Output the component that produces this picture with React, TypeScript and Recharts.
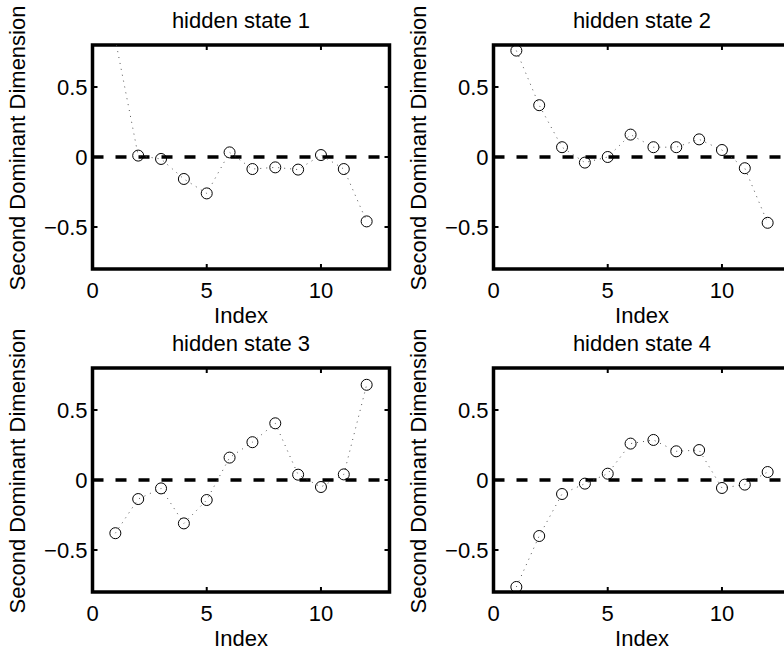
import { LineChart, Line, XAxis, YAxis, ReferenceLine, ReferenceArea } from 'recharts';

const indices = [1, 2, 3, 4, 5, 6, 7, 8, 9, 10, 11, 12];
const state1 = [0.84, 0.01, -0.014, -0.157, -0.26, 0.033, -0.086, -0.074, -0.09, 0.014, -0.086, -0.46];
const state2 = [0.76, 0.37, 0.07, -0.04, 0.0, 0.16, 0.07, 0.07, 0.126, 0.05, -0.08, -0.47];
const state3 = [-0.38, -0.136, -0.06, -0.31, -0.143, 0.16, 0.27, 0.405, 0.038, -0.05, 0.04, 0.68];
const state4 = [-0.764, -0.4, -0.1, -0.026, 0.045, 0.26, 0.286, 0.205, 0.214, -0.057, -0.033, 0.057];
const titles = ['hidden state 1', 'hidden state 2', 'hidden state 3', 'hidden state 4'];
const xTicks = [0, 5, 10];
const yTicks = [-0.5, 0, 0.5];

const FONT = '"Liberation Sans", Arial, Helvetica, sans-serif';
const FS = 22;
const PLOT_W = 297;
const PLOT_H = 224;
const CHART_W = 400;
const CHART_H = 335;

const fmt = (v: number) => (v < 0 ? '\u2212' + Math.abs(v) : String(v));

function XTick({ x, y, payload }: any) {
  return (
    <g>
      <line x1={x} x2={x} y1={y} y2={y - 5} stroke="#000" strokeWidth={2} />
      <line x1={x} x2={x} y1={y - PLOT_H} y2={y - PLOT_H + 5} stroke="#000" strokeWidth={2} />
      <text x={x} y={y + 28.5} textAnchor="middle" fontFamily={FONT} fontSize={FS} fill="#000">
        {fmt(payload.value)}
      </text>
    </g>
  );
}

function YTick({ x, y, payload }: any) {
  return (
    <g>
      <line x1={x} x2={x + 5} y1={y} y2={y} stroke="#000" strokeWidth={2} />
      <line x1={x + PLOT_W} x2={x + PLOT_W - 5} y1={y} y2={y} stroke="#000" strokeWidth={2} />
      <text x={x - 5} y={y} dy="0.36em" textAnchor="end" fontFamily={FONT} fontSize={FS} fill="#000">
        {fmt(payload.value)}
      </text>
    </g>
  );
}

function Ring({ cx, cy }: any) {
  if (cx == null || cy == null) return null;
  return <circle cx={cx} cy={cy} r={5.5} fill="none" stroke="#000" strokeWidth={1} />;
}

function Panel({ values, title, left, top }: { values: number[]; title: string; left: number; top: number }) {
  const data = indices.map((i, k) => ({ i, v: values[k] }));
  return (
    <div style={{ position: 'absolute', left, top }}>
      <LineChart
        width={CHART_W}
        height={CHART_H}
        data={data}
        margin={{ top: 45, right: CHART_W - 92.5 - PLOT_W, bottom: CHART_H - 45 - PLOT_H - 60, left: 0 }}
      >
        <XAxis
          dataKey="i"
          type="number"
          domain={[0, 13]}
          ticks={xTicks}
          interval={0}
          height={60}
          axisLine={false}
          tickLine={false}
          tickSize={0}
          tickMargin={0}
          tick={<XTick />}
          label={{
            content: ({ viewBox }: any) => (
              <text x={viewBox.x + viewBox.width / 2} y={viewBox.y + 53.5} textAnchor="middle" fontFamily={FONT} fontSize={FS} fill="#000">
                Index
              </text>
            ),
          }}
        />
        <YAxis
          type="number"
          domain={[-0.8, 0.8]}
          allowDataOverflow
          ticks={yTicks}
          interval={0}
          width={92.5}
          axisLine={false}
          tickLine={false}
          tickSize={0}
          tickMargin={0}
          tick={<YTick />}
          label={{
            content: ({ viewBox }: any) => {
              const cx = 25;
              const cy = viewBox.y + viewBox.height / 2 - 9;
              return (
                <text x={cx} y={cy} transform={`rotate(-90 ${cx} ${cy})`} textAnchor="middle" fontFamily={FONT} fontSize={FS} fill="#000">
                  Second Dominant Dimension
                </text>
              );
            },
          }}
        />
        <ReferenceArea
          x1={0}
          x2={13}
          y1={-0.8}
          y2={0.8}
          fill="none"
          fillOpacity={0}
          stroke="#000"
          strokeWidth={3.5}
          label={{
            content: ({ viewBox }: any) => (
              <text x={viewBox.x + viewBox.width / 2} y={viewBox.y - 17.5} textAnchor="middle" fontFamily={FONT} fontSize={FS} fill="#000">
                {title}
              </text>
            ),
          }}
        />
        <ReferenceLine y={0} stroke="#000" strokeWidth={3.5} strokeDasharray="11 12" />
        <Line
          dataKey="v"
          type="linear"
          stroke="#555"
          strokeWidth={1}
          strokeDasharray="1 5"
          dot={<Ring />}
          activeDot={false}
          isAnimationActive={false}
        />
      </LineChart>
    </div>
  );
}

export default function App() {
  return (
    <div style={{ position: 'absolute', left: 0, top: 0, width: 784, height: 651, overflow: 'hidden', background: '#fff' }}>
      <Panel values={state1} title={titles[0]} left={0} top={0} />
      <Panel values={state2} title={titles[1]} left={400.5} top={0} />
      <Panel values={state3} title={titles[2]} left={0} top={322.5} />
      <Panel values={state4} title={titles[3]} left={400.5} top={322.5} />
    </div>
  );
}
